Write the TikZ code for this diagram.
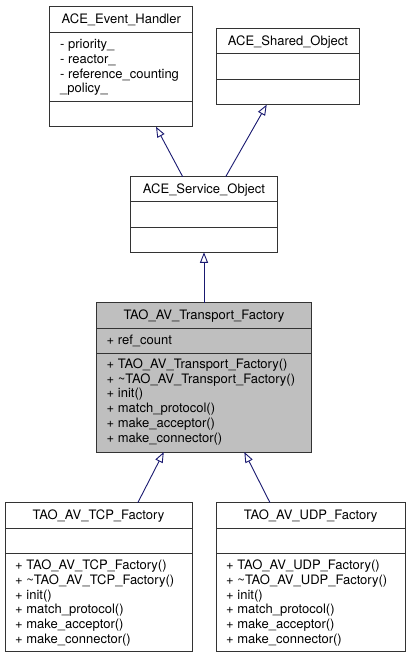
\documentclass[tikz,border=0pt]{standalone}
\usepackage{fontspec}
\setmainfont{TeX Gyre Heros}
\usetikzlibrary{arrows.meta}
\definecolor{edgeblue}{HTML}{191970}
\definecolor{boxline}{HTML}{333333}
\definecolor{boxgray}{HTML}{BFBFBF}
\tikzset{
  cls/.style={draw=boxline, line width=1pt, fill=white, inner sep=0pt, outer sep=0pt},
  sepline/.style={draw=boxline, line width=1pt},
  ttl/.style={anchor=base, inner sep=0pt, font=\fontsize{13}{14.7}\selectfont},
  mem/.style={anchor=base west, inner sep=0pt, font=\fontsize{13}{14.7}\selectfont},
  inherit/.style={draw=edgeblue, line width=0.9pt, -{Triangle[open,length=10.5pt,width=8pt]}}
}
\begin{document}
\begin{tikzpicture}[x=1pt,y=-1pt]
\useasboundingbox (0,0) rectangle (411,659);

% ACE_Event_Handler
\node[cls, minimum width=142.7pt, minimum height=120.4pt] (eh) at (121.3,66.5) {};
\draw[sepline] (eh.west |- 0,32.3) -- (eh.east |- 0,32.3);
\draw[sepline] (eh.west |- 0,101) -- (eh.east |- 0,101);
\node[ttl] (eh-t) at (121.3,23.3) {ACE\_Event\_Handler};
\node[mem] (eh-a1) at (60,48.8) {- priority\_};
\node[mem] (eh-a2) at (60,63.5) {- reactor\_};
\node[mem] (eh-a3) at (60,78.2) {- reference\_counting};
\node[mem] (eh-a4) at (60,92.9) {\_policy\_};

% ACE_Shared_Object
\node[cls, minimum width=142.6pt, minimum height=76pt] (sh) at (288,66.7) {};
\draw[sepline] (sh.west |- 0,53.7) -- (sh.east |- 0,53.7);
\draw[sepline] (sh.west |- 0,79.3) -- (sh.east |- 0,79.3);
\node[ttl] (sh-t) at (288,45.7) {ACE\_Shared\_Object};

% ACE_Service_Object
\node[cls, minimum width=146.6pt, minimum height=75.6pt] (so) at (204,214.5) {};
\draw[sepline] (so.west |- 0,201.7) -- (so.east |- 0,201.7);
\draw[sepline] (so.west |- 0,227.7) -- (so.east |- 0,227.7);
\node[ttl] (so-t) at (204,193.7) {ACE\_Service\_Object};

% TAO_AV_Transport_Factory
\node[cls, fill=boxgray, minimum width=214.6pt, minimum height=149.3pt] (tr) at (204,377.35) {};
\draw[sepline] (tr.west |- 0,328) -- (tr.east |- 0,328);
\draw[sepline] (tr.west |- 0,353) -- (tr.east |- 0,353);
\node[ttl] (tr-t) at (204,319.7) {TAO\_AV\_Transport\_Factory};
\node[mem] (tr-a1) at (106.5,344.2) {+ ref\_count};
\node[mem] (tr-m1) at (106.5,368.5) {+ TAO\_AV\_Transport\_Factory()};
\node[mem] (tr-m2) at (106.5,383.2) {+ \textasciitilde TAO\_AV\_Transport\_Factory()};
\node[mem] (tr-m3) at (106.5,397.9) {+ init()};
\node[mem] (tr-m4) at (106.5,412.6) {+ match\_protocol()};
\node[mem] (tr-m5) at (106.5,427.3) {+ make\_acceptor()};
\node[mem] (tr-m6) at (106.5,442.0) {+ make\_connector()};

% TAO_AV_TCP_Factory
\node[cls, minimum width=187pt, minimum height=149pt] (tcp) at (98.5,577.2) {};
\draw[sepline] (tcp.west |- 0,528) -- (tcp.east |- 0,528);
\draw[sepline] (tcp.west |- 0,553.3) -- (tcp.east |- 0,553.3);
\node[ttl] (tcp-t) at (98.5,519.7) {TAO\_AV\_TCP\_Factory};
\node[mem] (tcp-m1) at (15,569.8) {+ TAO\_AV\_TCP\_Factory()};
\node[mem] (tcp-m2) at (15,584.5) {+ \textasciitilde TAO\_AV\_TCP\_Factory()};
\node[mem] (tcp-m3) at (15,599.2) {+ init()};
\node[mem] (tcp-m4) at (15,613.9) {+ match\_protocol()};
\node[mem] (tcp-m5) at (15,628.6) {+ make\_acceptor()};
\node[mem] (tcp-m6) at (15,643.3) {+ make\_connector()};

% TAO_AV_UDP_Factory
\node[cls, minimum width=189.3pt, minimum height=149pt] (udp) at (310.65,577.2) {};
\draw[sepline] (udp.west |- 0,528) -- (udp.east |- 0,528);
\draw[sepline] (udp.west |- 0,553.3) -- (udp.east |- 0,553.3);
\node[ttl] (udp-t) at (310.65,519.7) {TAO\_AV\_UDP\_Factory};
\node[mem] (udp-m1) at (226,569.8) {+ TAO\_AV\_UDP\_Factory()};
\node[mem] (udp-m2) at (226,584.5) {+ \textasciitilde TAO\_AV\_UDP\_Factory()};
\node[mem] (udp-m3) at (226,599.2) {+ init()};
\node[mem] (udp-m4) at (226,613.9) {+ match\_protocol()};
\node[mem] (udp-m5) at (226,628.6) {+ make\_acceptor()};
\node[mem] (udp-m6) at (226,643.3) {+ make\_connector()};

% connector endpoints on the borders
\coordinate (so-up1) at (182.7,176.7);
\coordinate (eh-dn) at (156,126.7);
\coordinate (so-up2) at (225.7,176.7);
\coordinate (sh-dn) at (266.7,104.7);
\coordinate (tr-up) at (204,302.7);
\coordinate (so-dn) at (204,252.3);
\coordinate (tcp-up) at (137.8,502.7);
\coordinate (tr-dn1) at (163.8,452);
\coordinate (udp-up) at (270,502.7);
\coordinate (tr-dn2) at (244.3,452);

\draw[inherit] (so-up1) -- (eh-dn);
\draw[inherit] (so-up2) -- (sh-dn);
\draw[inherit] (tr-up) -- (so-dn);
\draw[inherit] (tcp-up) -- (tr-dn1);
\draw[inherit] (udp-up) -- (tr-dn2);
\end{tikzpicture}
\end{document}
